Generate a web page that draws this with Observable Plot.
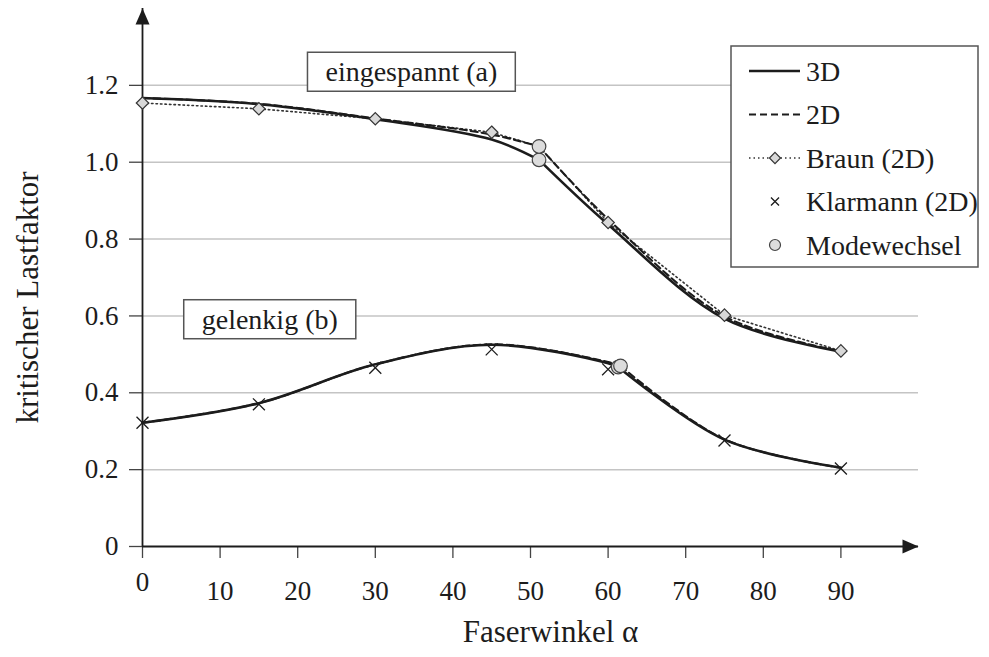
<!DOCTYPE html>
<html>
<head>
<meta charset="utf-8">
<script src="https://cdn.jsdelivr.net/npm/d3@7"></script>
<script src="https://cdn.jsdelivr.net/npm/@observablehq/plot@0.6"></script>
<style>
  body { margin: 0; background: #fff; }
  #chart svg { display: block; }
</style>
</head>
<body>
<div id="chart"></div>
<script>
// Fibre angles at which the buckling analyses were run
const angles = [0, 15, 30, 45, 60, 75, 90];

// (a) clamped edges ("eingespannt")
const clamped3D = [1.167, 1.151, 1.112, 1.059, 0.838, 0.593, 0.507];
const clamped2D = [1.167, 1.152, 1.114, 1.072, 0.852, 0.599, 0.508];
const clampedBraun = [1.154, 1.139, 1.113, 1.078, 0.843, 0.602, 0.509];

// (b) hinged edges ("gelenkig")
const hinged3D = [0.322, 0.373, 0.474, 0.525, 0.477, 0.278, 0.205];
const hinged2D = [0.322, 0.373, 0.474, 0.526, 0.480, 0.279, 0.205];
const hingedKlarmann = [0.322, 0.370, 0.465, 0.513, 0.461, 0.276, 0.203];

// Mode changes: angle and load factor where the buckling mode switches
const modeSeries = ["clamped3D", "clamped2D", "hinged3D", "hinged2D"];
const modeAngles = [51.1, 51.1, 61.3, 61.6];
const modeValues = [1.006, 1.041, 0.467, 0.470];

// Axis ticks
const xTicks = [0, 10, 20, 30, 40, 50, 60, 70, 80, 90];
const yTicks = [0, 0.2, 0.4, 0.6, 0.8, 1.0, 1.2];

// Labels
const legendLabels = ["3D", "2D", "Braun (2D)", "Klarmann (2D)", "Modewechsel"];
const notes = ["eingespannt (a)", "gelenkig (b)"];
const noteAngles = [34.65, 16.4];
const noteValues = [1.234, 0.59];

const FONT = "'Liberation Serif', 'Times New Roman', Times, serif";
const INK = "#1c1c1c";

const mode = Object.fromEntries(modeSeries.map((s, i) => [s, {a: modeAngles[i], v: modeValues[i]}]));

// A smoothed FE curve has a kink at the mode change, so it is split there
function splitAtMode(name, values) {
  const m = mode[name];
  const pts = angles.map((a, i) => ({a, v: values[i]}));
  const pre = [...pts.filter(p => p.a < m.a), m].map(p => ({...p, seg: name + "-1"}));
  const post = [m, ...pts.filter(p => p.a > m.a)].map(p => ({...p, seg: name + "-2"}));
  return [...pre, ...post];
}

const fe3D = [...splitAtMode("clamped3D", clamped3D), ...splitAtMode("hinged3D", hinged3D)];
const fe2D = [...splitAtMode("clamped2D", clamped2D), ...splitAtMode("hinged2D", hinged2D)];

// Braun's curve runs through the 2D mode change point
const braunPts = angles.map((a, i) => ({a, v: clampedBraun[i]}));
const braunLine = [...braunPts.filter(p => p.a < mode.clamped2D.a), mode.clamped2D, ...braunPts.filter(p => p.a > mode.clamped2D.a)];
const klarmannPts = angles.map((a, i) => ({a, v: hingedKlarmann[i]}));
const modePts = modeSeries.map((s, i) => ({a: modeAngles[i], v: modeValues[i]}));
const noteData = notes.map((t, i) => ({t, a: noteAngles[i], v: noteValues[i]}));

// Filled arrowhead with its tip at the origin, pointing up
const arrowHead = {
  draw(context) {
    context.moveTo(0, 0);
    context.lineTo(-7, 16);
    context.lineTo(7, 16);
    context.closePath();
  }
};

const chart = Plot.plot({
  width: 989,
  height: 657,
  marginLeft: 142,
  marginRight: 71,
  marginTop: 8,
  marginBottom: 111,
  style: {fontFamily: FONT, color: INK, background: "#fff"},
  x: {domain: [0, 100]},
  y: {domain: [0, 1.4]},
  marks: [
    Plot.ruleY(yTicks.filter(d => d > 0), {stroke: "#c4c4c4", strokeWidth: 1.5}),
    Plot.axisY({
      ticks: yTicks, tickSize: 13, tickPadding: 11, label: null,
      tickFormat: d => d === 0 ? "0" : d.toFixed(1),
      fontSize: 27, stroke: "#444", strokeWidth: 1.3, fill: INK
    }),
    Plot.axisX({
      ticks: xTicks, tickSize: 12, tickPadding: 22, label: null,
      tickFormat: d => d === 0 ? "" : String(d),
      fontSize: 27, stroke: "#444", strokeWidth: 1.3, fill: INK
    }),
    // the origin label sits a little higher than the other x labels
    Plot.text([0], {x: d => d, y: 0, text: () => "0", dy: 36, fontSize: 27, fill: INK}),
    Plot.ruleY([0], {stroke: INK, strokeWidth: 1.8}),
    Plot.ruleX([0], {stroke: INK, strokeWidth: 1.8}),
    Plot.dot([{a: 100, v: 0}], {x: "a", y: "v", symbol: arrowHead, rotate: 90, fill: INK, stroke: "none"}),
    Plot.dot([{a: 0, v: 1.4}], {x: "a", y: "v", symbol: arrowHead, fill: INK, stroke: "none"}),

    Plot.line(braunLine, {x: "a", y: "v", stroke: "#333", strokeWidth: 1.6, strokeDasharray: "1.5,3"}),
    Plot.line(fe2D, {x: "a", y: "v", z: "seg", curve: "catmull-rom", stroke: INK, strokeWidth: 2.1, strokeDasharray: "7,4"}),
    Plot.line(fe3D, {x: "a", y: "v", z: "seg", curve: "catmull-rom", stroke: INK, strokeWidth: 2.6}),

    Plot.dot(braunPts, {x: "a", y: "v", symbol: "diamond2", r: 5.6, fill: "#d8d8d8", stroke: "#333", strokeWidth: 1.2}),
    Plot.dot(klarmannPts, {x: "a", y: "v", symbol: "times", r: 5.5, stroke: INK, strokeWidth: 1.3}),
    Plot.dot(modePts, {x: "a", y: "v", r: 6.8, fill: "#dcdcdc", stroke: "#444", strokeWidth: 1.2}),

    Plot.text(noteData, {x: "a", y: "v", text: "t", fontSize: 28, fill: INK, ariaDescription: "note"}),

    Plot.text(["kritischer Lastfaktor"], {frameAnchor: "left", textAnchor: "middle", rotate: -90, dx: -114, dy: 20, fontSize: 31, fill: INK}),
    Plot.text(["Faserwinkel \u03b1"], {frameAnchor: "bottom", dx: 20, dy: 95, fontSize: 31, fill: INK})
  ]
});

document.getElementById("chart").append(chart);

const svg = d3.select(chart);

// Framed boxes behind the two curve labels
svg.selectAll('g[aria-description="note"] text').each(function() {
  const b = this.getBBox();
  d3.select(this.parentNode).insert("rect", () => this)
    .attr("transform", this.getAttribute("transform"))
    .attr("x", b.x - 18).attr("y", b.y - 4)
    .attr("width", b.width + 36).attr("height", b.height + 8)
    .attr("fill", "#fff").attr("stroke", "#555").attr("stroke-width", 1.5);
});

// Legend
const lg = svg.append("g").attr("font-family", FONT).attr("font-size", 28)
  .attr("fill", INK).attr("text-anchor", "start");
lg.append("rect").attr("x", 731).attr("y", 46).attr("width", 247).attr("height", 221)
  .attr("fill", "#fff").attr("stroke", "#555").attr("stroke-width", 1.5);
const rowY = i => 71 + i * 43.5;
const sx1 = 749, sx2 = 800, sxm = 775;
legendLabels.forEach((label, i) => {
  const y = rowY(i);
  if (i === 0) lg.append("line").attr("x1", sx1).attr("x2", sx2).attr("y1", y).attr("y2", y).attr("stroke", INK).attr("stroke-width", 2.6);
  if (i === 1) lg.append("line").attr("x1", sx1).attr("x2", sx2).attr("y1", y).attr("y2", y).attr("stroke", INK).attr("stroke-width", 2.1).attr("stroke-dasharray", "7,4");
  if (i === 2) {
    lg.append("line").attr("x1", sx1).attr("x2", sx2).attr("y1", y).attr("y2", y).attr("stroke", "#333").attr("stroke-width", 1.6).attr("stroke-dasharray", "1.5,3");
    lg.append("path").attr("d", d3.symbol(d3.symbolDiamond2, Math.PI * 25)()).attr("transform", `translate(${sxm},${y})`)
      .attr("fill", "#d8d8d8").attr("stroke", "#333").attr("stroke-width", 1.2);
  }
  if (i === 3) lg.append("path").attr("d", d3.symbol(d3.symbolTimes, Math.PI * 14)()).attr("transform", `translate(${sxm},${y})`)
      .attr("fill", "none").attr("stroke", INK).attr("stroke-width", 1.3);
  if (i === 4) lg.append("circle").attr("cx", sxm).attr("cy", y).attr("r", 5.5)
      .attr("fill", "#dcdcdc").attr("stroke", "#444").attr("stroke-width", 1.2);
  lg.append("text").attr("x", 806).attr("y", y).attr("dy", "0.35em").text(label);
});
</script>
</body>
</html>
